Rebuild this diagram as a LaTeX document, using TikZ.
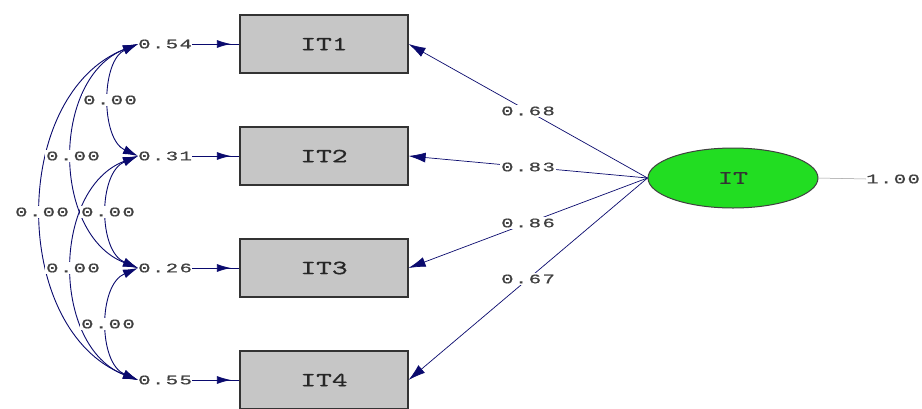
\documentclass[tikz,border=0pt]{standalone}
\usepackage{fontspec}
\usetikzlibrary{arrows.meta,decorations.markings,shapes.geometric}
\newfontfamily\numfont[FakeStretch=1.6,LetterSpace=10,FakeBold=0.6]{Liberation Mono}
\newfontfamily\boxfont[FakeStretch=1.5,FakeBold=0.6]{lmmono10-regular.otf}
\definecolor{navyc}{HTML}{0A0A6E}
\definecolor{txt}{HTML}{404040}
\definecolor{boxfill}{HTML}{C6C6C6}
\definecolor{ellfill}{HTML}{22DD22}
\begin{document}
\begin{tikzpicture}[x=1pt,y=-1pt,
  obs/.style={draw=black!80, line width=1.2pt, fill=boxfill, minimum width=168pt, minimum height=58pt, inner sep=0pt, font=\boxfont\fontsize{20}{20}\selectfont, text=black!85},
  lat/.style={ellipse, draw=black!75, line width=1pt, fill=ellfill, minimum width=170pt, minimum height=60pt, inner sep=0pt, font=\boxfont\fontsize{19}{19}\selectfont, text=black!80},
  num/.style={font=\numfont\fontsize{13}{13}\selectfont, text=txt, inner sep=1.5pt, fill=white},
  errlab/.style={num, inner sep=0pt, anchor=west},
  load/.style={navyc, line width=0.7pt, -{Latex[length=17pt,width=10pt]}},
  cov/.style={navyc, line width=0.9pt, {Latex[length=15pt,width=9pt]}-{Latex[length=15pt,width=9pt]}},
  errarr/.style={navyc, line width=0.8pt, decoration={markings, mark=at position 0.82 with {\arrow{Latex[length=14pt,width=8pt]}}}, postaction={decorate}}
]
\useasboundingbox (0,0) rectangle (922,408);
\clip (0,0) rectangle (922,408);
\fill[white] (0,0) rectangle (922,408);

% observed variables
\node[obs] (b1) at (324,44) {IT1};
\node[obs] (b2) at (324,156) {IT2};
\node[obs] (b3) at (324,268) {IT3};
\node[obs] (b4) at (324,380) {IT4};

% latent
\node[lat] (IT) at (733,178) {IT};

% error labels
\node[errlab] (e1) at (138,44) {0.54};
\node[errlab] (e2) at (138,156) {0.31};
\node[errlab] (e3) at (138,268) {0.26};
\node[errlab] (e4) at (138,380) {0.55};

\draw[errarr] (e1.east) -- (b1.west);
\draw[errarr] (e2.east) -- (b2.west);
\draw[errarr] (e3.east) -- (b3.west);
\draw[errarr] (e4.east) -- (b4.west);

% covariance curves
\draw[cov] (e1.west) .. controls +(-128,50) and +(-128,-50) .. coordinate[pos=0.5] (m14) (e4.west);
\draw[cov] (e1.west) .. controls +(-86.7,34) and +(-86.7,-34) .. coordinate[pos=0.5] (m13) (e3.west);
\draw[cov] (e2.west) .. controls +(-86.7,33) and +(-86.7,-33) .. coordinate[pos=0.5] (m24) (e4.west);
\draw[cov] (e1.west) .. controls +(-37.3,17) and +(-37.3,-17) .. coordinate[pos=0.5] (m12) (e2.west);
\draw[cov] (e2.west) .. controls +(-40,17) and +(-40,-17) .. coordinate[pos=0.5] (m23) (e3.west);
\draw[cov] (e3.west) .. controls +(-40,17) and +(-40,-17) .. coordinate[pos=0.5] (m34) (e4.west);

\node[num] (l12) at (m12) {0.00};
\node[num] (l13) at (m13) {0.00};
\node[num] (l14) at (m14) {0.00};
\node[num] (l23) at (m23) {0.00};
\node[num] (l24) at (m24) {0.00};
\node[num] (l34) at (m34) {0.00};

% loadings
\draw[load] (IT.west) -- node[num,pos=0.5] {0.68} (b1.east);
\draw[load] (IT.west) -- node[num,pos=0.5] {0.83} (b2.east);
\draw[load] (IT.west) -- node[num,pos=0.5] {0.86} (b3.east);
\draw[load] (IT.west) -- node[num,pos=0.5] {0.67} (b4.east);

% variance of latent
\node[num, anchor=west, inner sep=0pt] (v) at (866,179) {1.00};
\draw[black!40, line width=0.5pt] (IT.east) -- (v.west);
\end{tikzpicture}
\end{document}
